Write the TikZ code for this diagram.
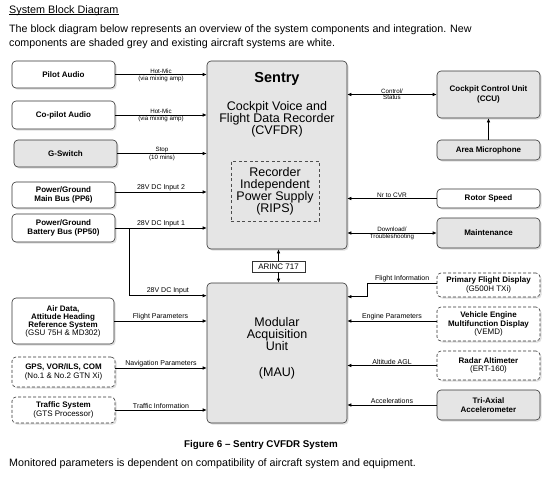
\documentclass[tikz,border=0pt]{standalone}
\usepackage{fontspec}
\setmainfont{Liberation Sans}
\usepackage{tikz}
\usepackage{xcolor}
\usetikzlibrary{arrows.meta,shadows,calc}

\tikzset{
  unit/.style={draw=black!80, line width=0.6pt, rounded corners=4pt, align=center,
    inner sep=1pt, font=\bfseries\fontsize{8}{8.5}\selectfont,
    drop shadow={opacity=0.25, shadow xshift=1.6pt, shadow yshift=-1.6pt}},
  newunit/.style={unit, fill=black!10},
  oldunit/.style={unit, fill=white},
  extunit/.style={unit, fill=white, dash pattern=on 3pt off 2pt},
  sig/.style={-{Latex[length=4pt,width=3.5pt]}, line width=0.6pt},
  bisig/.style={{Latex[length=4pt,width=3.5pt]}-{Latex[length=4pt,width=3.5pt]}, line width=0.6pt},
  lbl/.style={font=\fontsize{7}{7}\selectfont, inner sep=1pt},
  smalllbl/.style={font=\fontsize{6.2}{6.2}\selectfont, inner sep=0.8pt},
  bigtext/.style={font=\fontsize{12.5}{12}\selectfont, align=center, inner sep=0pt},
  bodytext/.style={font=\fontsize{10.7}{12}\selectfont, inner sep=0pt},
}

\begin{document}
\begin{tikzpicture}[x=1pt,y=-1pt]
\useasboundingbox (0,0) rectangle (560,499);
% header text
\node[bodytext, font=\fontsize{10.8}{12}\selectfont, anchor=base west] (title) at (9,13) {System Block Diagram};
\draw[line width=0.6pt] ([yshift=-1.3pt]title.base west) -- ([yshift=-1.3pt]title.base east);
\node[bodytext, anchor=base west] (intro1) at (9,32.5) {The block diagram below represents an overview of the system components and integration. New};
\node[bodytext, anchor=base west] (intro2) at (9,46.5) {components are shaded grey and existing aircraft systems are white.};

% recorder and acquisition unit
\node[newunit, minimum width=140pt, minimum height=188pt] (sentry) at (277,155) {};
\node[font=\bfseries\fontsize{14.5}{14}\selectfont, inner sep=0pt] (sentrytitle) at (277,79) {Sentry};
\node[bigtext] (cvfdr) at (277,119) {Cockpit Voice and\\Flight Data Recorder\\(CVFDR)};
\node[draw=black!70, line width=0.6pt, dash pattern=on 3pt off 2.5pt, minimum width=88pt, minimum height=60pt,
  bigtext] (rips) at (275,191) {Recorder\\Independent\\Power Supply\\(RIPS)};
\node[newunit, minimum width=140pt, minimum height=140pt] (mau) at (277,353) {};
\node[bigtext] (mautext) at (277,348) {Modular\\Acquisition\\Unit\\[14pt](MAU)};
\node[draw=black!80, fill=white, line width=0.6pt, minimum width=53pt, minimum height=11pt, inner sep=0pt,
  font=\fontsize{8}{8}\selectfont] (arinc) at (278.5,266.5) {ARINC 717};

% left side units
\node[oldunit, minimum width=103pt, minimum height=27pt] (pilot) at (63.5,74.5) {Pilot Audio};
\node[oldunit, minimum width=103pt, minimum height=28pt] (copilot) at (63.5,115) {Co-pilot Audio};
\node[newunit, minimum width=103pt, minimum height=27pt] (gswitch) at (65.5,153.5) {G-Switch};
\node[oldunit, minimum width=103pt, minimum height=26pt] (mainbus) at (63.5,195) {Power/Ground\\Main Bus (PP6)};
\node[oldunit, minimum width=103pt, minimum height=28pt] (battbus) at (63.5,228) {Power/Ground\\Battery Bus (PP50)};
\node[oldunit, minimum width=102pt, minimum height=46pt, font=\bfseries\fontsize{8}{8}\selectfont] (airdata) at (63,321)
  {Air Data,\\Attitude Heading\\Reference System\\{\mdseries (GSU 75H \& MD302)}};
\node[extunit, minimum width=103pt, minimum height=30pt] (gps) at (63.5,372) {GPS, VOR/ILS, COM\\{\mdseries (No.1 \& No.2 GTN Xi)}};
\node[extunit, minimum width=103pt, minimum height=26pt] (traffic) at (63.5,410) {Traffic System\\{\mdseries (GTS Processor)}};

% right side units
\node[newunit, minimum width=103pt, minimum height=47pt, font=\bfseries\fontsize{8}{10}\selectfont] (ccu) at (488.5,94.5) {Cockpit Control Unit\\(CCU)};
\node[newunit, minimum width=103pt, minimum height=20pt] (mic) at (488.5,150) {Area Microphone};
\node[oldunit, minimum width=103pt, minimum height=19pt] (rotor) at (488.5,198.5) {Rotor Speed};
\node[newunit, minimum width=103pt, minimum height=30pt] (maint) at (488.5,233) {Maintenance};
\node[extunit, minimum width=103pt, minimum height=24pt] (pfd) at (488.5,285) {Primary Flight Display\\{\mdseries (G500H TXi)}};
\node[extunit, minimum width=103pt, minimum height=34pt] (vemd) at (488.5,324) {Vehicle Engine\\Multifunction Display\\{\mdseries (VEMD)}};
\node[extunit, minimum width=103pt, minimum height=29pt] (radar) at (488.5,365.5) {Radar Altimeter\\{\mdseries (ERT-160)}};
\node[newunit, minimum width=103pt, minimum height=30pt, font=\bfseries\fontsize{8}{9}\selectfont] (triax) at (488.5,405) {Tri-Axial\\Accelerometer};

% inputs to the recorder
\draw[sig] (pilot.east) -- node[smalllbl, above] {Hot-Mic} node[smalllbl, below] {(via mixing amp)} (pilot.east -| sentry.west);
\draw[sig] (copilot.east) -- node[smalllbl, above] {Hot-Mic} node[smalllbl, below] {(via mixing amp)} (copilot.east -| sentry.west);
\draw[sig] (gswitch.east) -- node[smalllbl, above] {Stop} node[smalllbl, below] {(10 mins)} (gswitch.east -| sentry.west);
\draw[sig] ([yshift=3pt]mainbus.east) -- node[lbl, above] {28V DC Input 2} ([yshift=3pt]mainbus.east -| sentry.west);
\draw[sig] (battbus.east) -- node[lbl, above] {28V DC Input 1} (battbus.east -| sentry.west);
\coordinate (branch) at (129,228);
\coordinate (dcin) at ([yshift=-13pt]mau.north west);
\draw[sig] (branch) |- node[lbl, above, pos=0.75] {28V DC Input} (dcin);
\draw[bisig] (sentry.east |- ccu.west) -- node[smalllbl, above] {Control/} node[smalllbl, below] {Status} (ccu.west);
\draw[sig] (mic.north) -- (ccu.south);
\draw[sig] (rotor.west) -- node[lbl, font=\fontsize{6.5}{6.5}\selectfont, above] {Nr to CVR} (rotor.west -| sentry.east);
\draw[bisig] (sentry.east |- maint.west) -- node[smalllbl, font=\fontsize{6.2}{6.2}\selectfont, above] {Download/} node[smalllbl, font=\fontsize{6.2}{6.2}\selectfont, below] {Troubleshooting} (maint.west);

% recorder to acquisition unit
\draw[sig] (arinc.north) -- (arinc.north |- sentry.south);
\draw[sig] (arinc.south) -- (arinc.south |- mau.north);

% inputs to the acquisition unit
\draw[sig] (airdata.east) -- node[lbl, above] {Flight Parameters} (airdata.east -| mau.west);
\draw[sig] ([yshift=4pt]gps.east) -- node[lbl, above] {Navigation Parameters} ([yshift=4pt]gps.east -| mau.west);
\draw[sig] (traffic.east) -- node[lbl, above] {Traffic Information} (traffic.east -| mau.west);
\coordinate (fltin) at ([yshift=-14pt]mau.north east);
\draw[sig] ([yshift=2pt]pfd.west) -- node[lbl, above] {Flight Information} ++(-69,0) |- (fltin);
\draw[sig] ([yshift=3pt]vemd.west) -- node[lbl, above] {Engine Parameters} ([yshift=3pt]vemd.west -| mau.east);
\draw[sig] (radar.west) -- node[lbl, above] {Altitude AGL} (radar.west -| mau.east);
\draw[sig] (triax.west) -- node[lbl, above] {Accelerations} (triax.west -| mau.east);

% caption and note
\node[font=\bfseries\fontsize{9.8}{11}\selectfont, anchor=base, inner sep=0pt] (caption) at (261,447) {Figure 6 -- Sentry CVFDR System};
\node[bodytext, anchor=base west] (note) at (9,466.5) {Monitored parameters is dependent on compatibility of aircraft system and equipment.};
\end{tikzpicture}
\end{document}
